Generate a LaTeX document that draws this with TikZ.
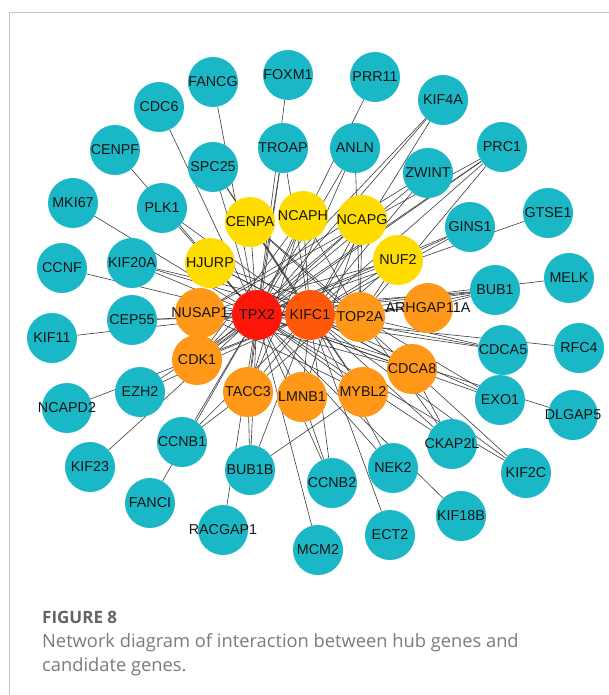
\documentclass[tikz,border=0pt]{standalone}
\usepackage{fontspec}
\setmainfont{Liberation Sans}
\newfontfamily\capfont{Open Sans}
\usetikzlibrary{backgrounds}

\definecolor{genecyan}{RGB}{26,184,198}
\definecolor{hubyellow}{RGB}{255,220,0}
\definecolor{huborange}{RGB}{255,152,24}
\definecolor{hubdeep}{RGB}{255,88,10}
\definecolor{hubred}{RGB}{255,22,10}
\definecolor{edgegray}{RGB}{60,60,60}
\definecolor{framegray}{RGB}{196,196,196}
\definecolor{capgray}{RGB}{100,100,100}

% label that does not widen the circle
\newcommand{\glab}[1]{\makebox[0pt]{#1}}

\tikzset{
  gene/.style={circle, minimum size=50pt, inner sep=0pt, fill=genecyan,
    font=\fontsize{14.3}{14}\selectfont, text={black!92}},
  hubY/.style={gene, fill=hubyellow},
  hubO/.style={gene, fill=huborange},
  hubD/.style={gene, fill=hubdeep},
  hubR/.style={gene, fill=hubred},
  link/.style={draw=edgegray, line width=0.6pt},
}

\begin{document}
\begin{tikzpicture}[x=1pt, y=-1pt]
  \useasboundingbox (0,0) rectangle (609,695);
  % Frame
  \draw[framegray, line width=1pt] (9,695) -- (9,13) -- (609,13);
  % Candidate genes
  \node[gene] (FANCG) at (213,82) {\glab{FANCG}};
  \node[gene] (FOXM1) at (288,75) {\glab{FOXM1}};
  \node[gene] (PRR11) at (375,77) {\glab{PRR11}};
  \node[gene] (KIF4A) at (443,100) {\glab{KIF4A}};
  \node[gene] (CDC6) at (159,107) {\glab{CDC6}};
  \node[gene] (CENPF) at (115,150) {\glab{CENPF}};
  \node[gene] (SPC25) at (213,167) {\glab{SPC25}};
  \node[gene] (TROAP) at (283,148) {\glab{TROAP}};
  \node[gene] (ANLN) at (355,148) {\glab{ANLN}};
  \node[gene] (PRC1) at (502,147) {\glab{PRC1}};
  \node[gene] (ZWINT) at (428,173) {\glab{ZWINT}};
  \node[gene] (MKI67) at (73,203) {\glab{MKI67}};
  \node[gene] (PLK1) at (162,208) {\glab{PLK1}};
  \node[gene] (GINS1) at (470,227) {\glab{GINS1}};
  \node[gene] (GTSE1) at (548,213) {\glab{GTSE1}};
  \node[gene] (CCNF) at (62,268) {\glab{CCNF}};
  \node[gene] (KIF20A) at (132,263) {\glab{KIF20A}};
  \node[gene] (MELK) at (569,278) {\glab{MELK}};
  \node[gene] (BUB1) at (495,290) {\glab{BUB1}};
  \node[gene] (CEP55) at (132,320) {\glab{CEP55}};
  \node[gene] (KIF11) at (52,338) {\glab{KIF11}};
  \node[gene] (CDCA5) at (503,350) {\glab{CDCA5}};
  \node[gene] (RFC4) at (579,348) {\glab{RFC4}};
  \node[gene] (EZH2) at (140,392) {\glab{EZH2}};
  \node[gene] (NCAPD2) at (67,408) {\glab{NCAPD2}};
  \node[gene] (EXO1) at (500,400) {\glab{EXO1}};
  \node[gene] (DLGAP5) at (573,415) {\glab{DLGAP5}};
  \node[gene] (CCNB1) at (182,442) {\glab{CCNB1}};
  \node[gene] (CKAP2L) at (452,444) {\glab{CKAP2L}};
  \node[gene] (KIF23) at (90,467) {\glab{KIF23}};
  \node[gene] (BUB1B) at (250,470) {\glab{BUB1B}};
  \node[gene] (CCNB2) at (332,483) {\glab{CCNB2}};
  \node[gene] (NEK2) at (393,468) {\glab{NEK2}};
  \node[gene] (KIF2C) at (526,473) {\glab{KIF2C}};
  \node[gene] (FANCI) at (150,503) {\glab{FANCI}};
  \node[gene] (RACGAP1) at (223,530) {\glab{RACGAP1}};
  \node[gene] (KIF18B) at (461,516) {\glab{KIF18B}};
  \node[gene] (ECT2) at (390,535) {\glab{ECT2}};
  \node[gene] (MCM2) at (318,550) {\glab{MCM2}};
  % Hub genes
  \node[hubY] (CENPA) at (250,222) {\glab{CENPA}};
  \node[hubY] (NCAPH) at (303,216) {\glab{NCAPH}};
  \node[hubY] (NCAPG) at (362,220) {\glab{NCAPG}};
  \node[hubY] (HJURP) at (210,263) {\glab{HJURP}};
  \node[hubY] (NUF2) at (398,260) {\glab{NUF2}};
  \node[hubO] (CDK1) at (197,360) {\glab{CDK1}};
  \node[hubO] (NUSAP1) at (200,313) {\glab{NUSAP1}};
  \node[hubO] (TOP2A) at (360,317) {\glab{TOP2A}};
  \node[hubO] (ARHGAP11A) at (428,308) {\glab{ARHGAP11A}};
  \node[hubO] (CDCA8) at (412,369) {\glab{CDCA8}};
  \node[hubO] (TACC3) at (248,392) {\glab{TACC3}};
  \node[hubO] (LMNB1) at (302,397) {\glab{LMNB1}};
  \node[hubO] (MYBL2) at (363,392) {\glab{MYBL2}};
  \node[hubR] (TPX2) at (257,315) {\glab{TPX2}};
  \node[hubD] (KIFC1) at (310,315) {\glab{KIFC1}};
  % Edges
  \begin{scope}[on background layer]
    \fill[white] (0,0) rectangle (609,695);
    \foreach \a/\b in {FOXM1/TPX2, PRR11/TPX2, FANCG/TPX2, CDC6/TPX2, CENPF/TPX2,
        MKI67/TPX2, PLK1/TPX2, PLK1/KIFC1, SPC25/TPX2, SPC25/KIFC1, SPC25/CENPA,
        TROAP/TPX2, TROAP/TACC3, TROAP/KIFC1, ANLN/TPX2, ANLN/TACC3, ANLN/TOP2A,
        KIF4A/TPX2, KIF4A/KIFC1, KIF4A/CDK1, ZWINT/TPX2, ZWINT/KIFC1, ZWINT/NUSAP1,
        PRC1/TPX2, PRC1/KIFC1, PRC1/TOP2A, PRC1/CDK1, PRC1/NUSAP1,
        GINS1/TPX2, GINS1/KIFC1, GINS1/NUF2, GTSE1/TPX2,
        BUB1/TPX2, BUB1/KIFC1, BUB1/TOP2A, BUB1/NUSAP1, BUB1/ARHGAP11A, MELK/TPX2,
        CCNF/TPX2, KIF20A/TPX2, KIF20A/KIFC1, KIF20A/TOP2A, KIF11/TPX2,
        CEP55/TPX2, CEP55/KIFC1, NCAPD2/KIFC1, EZH2/TPX2, EZH2/KIFC1, KIF23/TPX2,
        CCNB1/TPX2, CCNB1/KIFC1, CCNB1/TACC3, FANCI/TPX2,
        BUB1B/TPX2, BUB1B/KIFC1, BUB1B/MYBL2, BUB1B/TACC3, RACGAP1/TPX2,
        CCNB2/TPX2, CCNB2/KIFC1, CCNB2/LMNB1, MCM2/TPX2, ECT2/KIFC1,
        NEK2/TPX2, NEK2/KIFC1, KIF18B/TPX2,
        CKAP2L/TPX2, CKAP2L/KIFC1, CKAP2L/TOP2A, CKAP2L/CDCA8,
        KIF2C/TPX2, KIF2C/KIFC1, KIF2C/CDCA8, EXO1/TPX2, EXO1/KIFC1, EXO1/TOP2A,
        DLGAP5/TPX2, CDCA5/TPX2, CDCA5/KIFC1, CDCA5/TOP2A, RFC4/TPX2,
        TOP2A/NCAPG, TOP2A/NUF2, NCAPH/TOP2A, CENPA/MYBL2, HJURP/CDCA8,
        NCAPG/CDK1, NUF2/NUSAP1, NCAPH/CDK1, CENPA/TOP2A, HJURP/TOP2A,
        NUF2/TACC3, CDCA8/NUSAP1, LMNB1/NCAPG, TACC3/NCAPH, MYBL2/NUSAP1,
        CDCA8/CENPA}
      \draw[link] (\a) -- (\b);
    \foreach \h in {KIFC1, NUSAP1, CDK1, TOP2A, ARHGAP11A, CDCA8, TACC3, LMNB1,
        MYBL2, CENPA, NCAPH, NCAPG, HJURP, NUF2}
      \draw[link] (TPX2) -- (\h);
    \foreach \h in {NUSAP1, CDK1, TOP2A, ARHGAP11A, CDCA8, TACC3, LMNB1,
        MYBL2, CENPA, NCAPH, NCAPG, HJURP, NUF2}
      \draw[link] (KIFC1) -- (\h);
  \end{scope}
  % Caption
  \node[anchor=base west, inner sep=0pt, text=capgray,
    font=\capfont\bfseries\fontsize{17}{17}\selectfont] (figno) at (42,623) {FIGURE 8};
  \node[anchor=base west, inner sep=0pt, text=capgray!85, align=left,
    font=\capfont\fontsize{18.3}{24}\selectfont] (figcap) at (42,671)
    {Network diagram of interaction between hub genes and\\candidate genes.};
\end{tikzpicture}
\end{document}
